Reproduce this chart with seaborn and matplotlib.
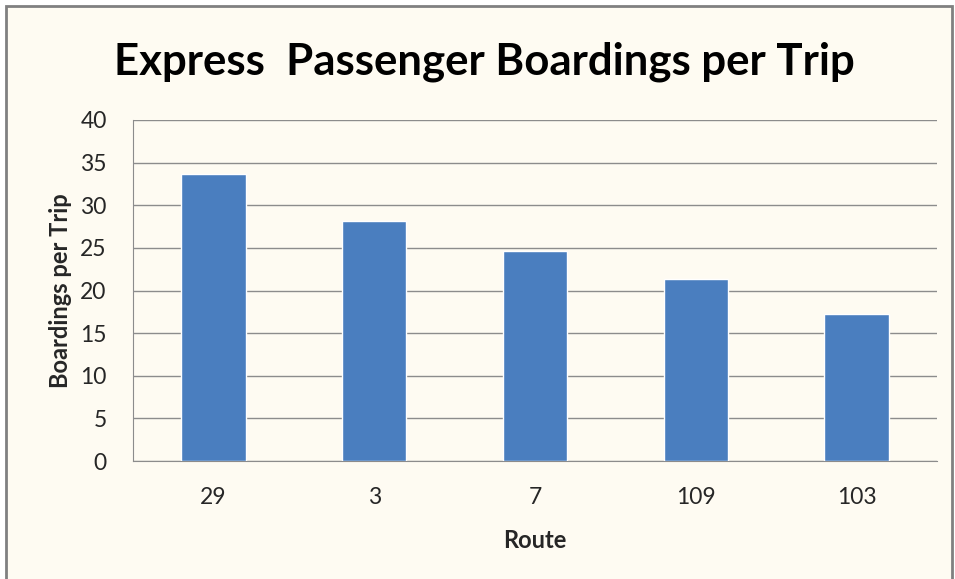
import pandas as pd
import matplotlib
matplotlib.use('Agg')
import matplotlib.pyplot as plt
import seaborn as sns
from matplotlib.patches import Rectangle

# Chart values
routes = ['29', '3', '7', '109', '103']
boardings = [33.7, 28.1, 24.6, 21.4, 17.2]
y_ticks = [0, 5, 10, 15, 20, 25, 30, 35, 40]

df = pd.DataFrame({'Route': routes, 'Boardings per Trip': boardings})

sns.set_style('white')
plt.rcParams['font.family'] = ['Lato', 'DejaVu Sans']

bg = '#fefbf2'
grid_col = '#8c8c8c'

fig = plt.figure(figsize=(9.55, 5.79), dpi=100)
fig.patch.set_facecolor('white')
# cream chart area with a grey frame, kept behind the axes
frame = Rectangle((6 / 955, -0.01), 946 / 955, 1 - 6 / 579 + 0.01,
                  transform=fig.transFigure, facecolor=bg,
                  edgecolor='#808080', linewidth=2.0, zorder=-5)
fig.patches.append(frame)

ax = fig.add_axes([133 / 955, 118 / 579, 804 / 955, 341 / 579])
ax.set_facecolor(bg)

sns.barplot(data=df, x='Route', y='Boardings per Trip', color='#4a7ebf',
            width=0.4, saturation=1, ax=ax, zorder=3)

ax.set_ylim(0, 40)
ax.set_xlim(-0.5, len(routes) - 0.5)
ax.set_yticks(y_ticks)
ax.yaxis.grid(True, color=grid_col, linewidth=1.0, zorder=0)
ax.set_axisbelow(True)

for side in ['top', 'right']:
    ax.spines[side].set_visible(False)
ax.spines['left'].set_color(grid_col)
ax.spines['bottom'].set_color(grid_col)

# x ticks between categories, labels at centres
ax.set_xticks([i + 0.5 for i in range(-1, len(routes))], minor=False)
ax.set_xticklabels([''] * (len(routes) + 1))
ax.set_xticks(range(len(routes)), minor=True)
ax.set_xticklabels(routes, minor=True)
ax.tick_params(axis='x', which='major', direction='out', length=7, color=grid_col)
ax.tick_params(axis='x', which='minor', length=0, pad=18.5, labelsize=16.5, labelcolor='#262626')
ax.tick_params(axis='y', direction='out', length=7, color=grid_col, pad=12,
               labelsize=16.5, labelcolor='#262626')

ax.set_xlabel('Route', fontsize=17, fontweight='bold', labelpad=15)
ax.set_ylabel('Boardings per Trip', fontsize=17, fontweight='bold', labelpad=6)

fig.text(0.507, 0.893, 'Express  Passenger Boardings per Trip', ha='center', va='center',
         fontsize=31.5, fontweight='bold', color='black')

fig.savefig('out.png', dpi=100, facecolor=fig.get_facecolor())
